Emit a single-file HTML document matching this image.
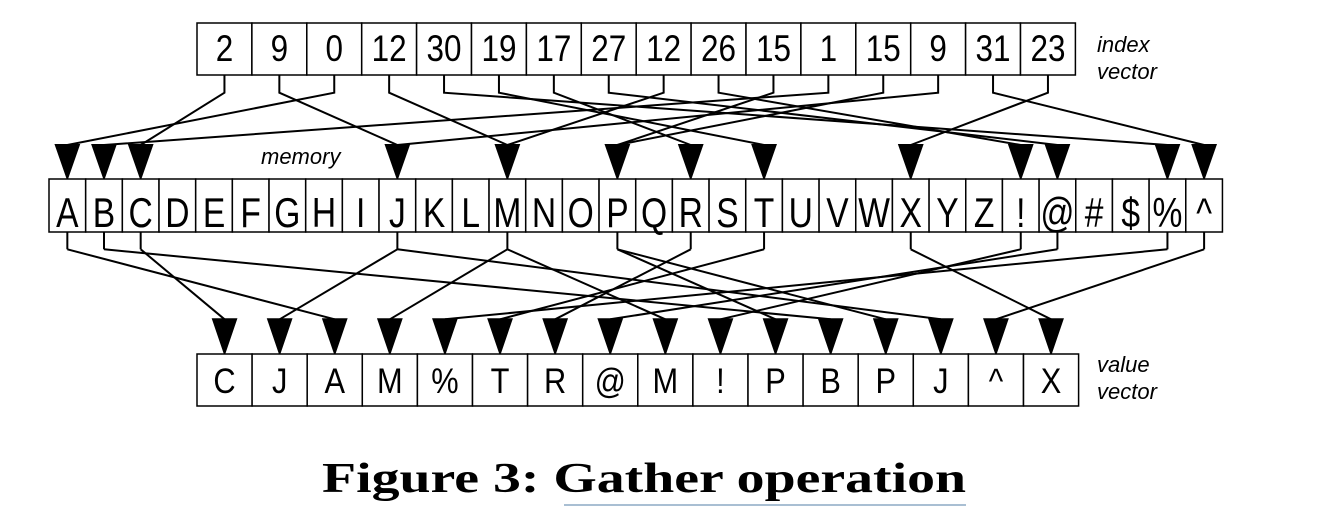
<!DOCTYPE html>
<html><head><meta charset="utf-8"><style>
html,body{margin:0;padding:0;background:#fff;}
svg{display:block;}
</style></head><body>
<svg id="fig" width="1323" height="521" viewBox="0 0 1323 521" xmlns="http://www.w3.org/2000/svg">
<g id="links" stroke="#000" stroke-width="2" fill="none"></g>
<g id="boxes"></g>
<text x="1097" y="52" font-family="Liberation Sans, sans-serif" font-style="italic" font-size="22">index</text>
<text x="1097" y="79" font-family="Liberation Sans, sans-serif" font-style="italic" font-size="22">vector</text>
<text x="261" y="164" font-family="Liberation Sans, sans-serif" font-style="italic" font-size="22">memory</text>
<text x="1097" y="372" font-family="Liberation Sans, sans-serif" font-style="italic" font-size="22">value</text>
<text x="1097" y="399" font-family="Liberation Sans, sans-serif" font-style="italic" font-size="22">vector</text>
<text x="322" y="492" textLength="644" lengthAdjust="spacingAndGlyphs" font-family="Liberation Serif, serif" font-weight="bold" font-size="42">Figure 3: Gather operation</text>
<line x1="564" y1="505" x2="966" y2="505" stroke="#a9bfd3" stroke-width="2"/>
</svg>
<script>
const indices = [2,9,0,12,30,19,17,27,12,26,15,1,15,9,31,23];
const memory = ["A","B","C","D","E","F","G","H","I","J","K","L","M","N","O","P","Q","R","S","T","U","V","W","X","Y","Z","!","@","#","$","%","^"];

const NS = "http://www.w3.org/2000/svg";
const boxes = document.getElementById('boxes');
const links = document.getElementById('links');
const IDX = {x:197, y:23, w:54.9, h:52};
const MEM = {x:49, y:179, w:36.67, h:53};
const VAL = {x:197, y:354, w:55.1, h:52};
const idxX = i => IDX.x + IDX.w*(i+0.5);
const memX = i => MEM.x + MEM.w*(i+0.5);
const valX = i => VAL.x + VAL.w*(i+0.5);

function mk(tag, attrs){const e=document.createElementNS(NS,tag);for(const k in attrs)e.setAttribute(k,attrs[k]);return e;}

function row(R, labels, fs, sx, base, name){
  labels.forEach((t,i)=>{
    const r = mk('rect',{x:R.x+R.w*i,y:R.y,width:R.w,height:R.h,fill:'#fff',stroke:'#000','stroke-width':1.5});
    
    
    boxes.appendChild(r);
    const cx = R.x+R.w*(i+0.5);
    const tx = mk('text',{transform:`translate(${cx},${R.y+base}) scale(${sx},1)`,'text-anchor':'middle','font-family':'Liberation Sans, sans-serif','font-size':fs});
    tx.textContent = t;
    
    
    boxes.appendChild(tx);
  });
}
row(IDX, indices.map(String), 37, 0.85, 38, 'index');
row(MEM, memory, 42, 0.8, 48, 'memory');
row(VAL, indices.map(k=>memory[k]), 35, 0.88, 39, 'value');

function arrow(cx, top, tip, name){
  const p = mk('polygon',{points:`${cx-11.5},${top} ${cx+11.5},${top} ${cx},${tip}`,fill:'#000'});
  
  
  links.appendChild(p);
}
// upper connections
const used = new Set();
indices.forEach((k,i)=>{
  const x0 = idxX(i), x1 = memX(k);
  const pl = mk('polyline',{points:`${x0},${IDX.y+IDX.h} ${x0},92.7 ${x1},145`});
  
  
  links.appendChild(pl);
  if(!used.has(k)){used.add(k);arrow(x1,145,178,'memory-arrow');}
});
// lower connections
const usedDown = new Set();
indices.forEach((k,i)=>{
  const x0 = memX(k), x1 = valX(i);
  if(!usedDown.has(k)){
    usedDown.add(k);
    const st = mk('line',{x1:x0,y1:MEM.y+MEM.h,x2:x0,y2:249.3});
    
    
    links.appendChild(st);
  }
  const ln = mk('line',{x1:x0,y1:249.3,x2:x1,y2:319.3});
  
  
  links.appendChild(ln);
  arrow(x1,319.3,353,'value-arrow');
});
</script>
</body></html>
